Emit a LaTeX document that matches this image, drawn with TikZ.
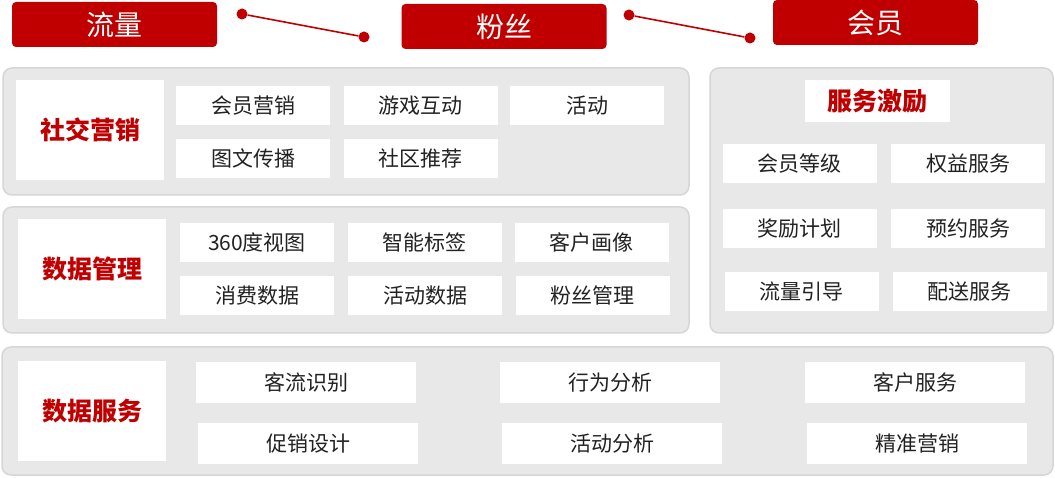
\documentclass[tikz,border=0pt]{standalone}
\usepackage{fontspec}
\setmainfont{Noto Sans CJK SC}
\usepackage{tikz}
\usetikzlibrary{calc}
\definecolor{hdred}{HTML}{C00000}
\definecolor{panelgrey}{HTML}{E8E8E8}
\definecolor{panelline}{HTML}{D6D6D6}
\definecolor{itemtext}{HTML}{222222}

\begin{document}
\begin{tikzpicture}[
x=1pt, y=-1pt,
header/.style={rectangle, rounded corners=4pt, fill=hdred, text=white, minimum width=205pt, minimum height=45pt, inner sep=0pt, font=\fontsize{28}{32}\selectfont},
panel/.style={rectangle, rounded corners=9pt, fill=panelgrey, draw=panelline, line width=1.5pt, inner sep=0pt},
title/.style={rectangle, fill=white, text=hdred, minimum width=148pt, minimum height=100pt, inner sep=0pt, font=\fontsize{25}{29}\selectfont\bfseries},
item/.style={rectangle, fill=white, text=itemtext, minimum width=154pt, minimum height=39pt, inner sep=0pt, font=\fontsize{21}{25}\selectfont},
wideitem/.style={item, minimum width=220pt, minimum height=41pt},
link/.style={draw=hdred, line width=1.6pt},
dot/.style={circle, fill=hdred, inner sep=0pt, minimum size=11pt}
]
\useasboundingbox (0,0) rectangle (1055,478);

% headers
\node[header] (traffic) at (114.5,24.5) {流量};
\node[header] (fans) at (504,26.5) {粉丝};
\node[header] (member) at (875.5,22.5) {会员};

% links between headers
\node[dot] (d1) at (242,14) {};
\node[dot] (d2) at (364,37) {};
\node[dot] (d3) at (629,15) {};
\node[dot] (d4) at (750,38) {};
\draw[link] (d1) -- (d2);
\draw[link] (d3) -- (d4);

% panels
\node[panel, minimum width=686pt, minimum height=127pt] (social) at (346,131.5) {};
\node[panel, minimum width=686pt, minimum height=126pt] (data) at (346,270) {};
\node[panel, minimum width=343pt, minimum height=265pt] (incent) at (881.5,200.5) {};
\node[panel, minimum width=1051pt, minimum height=128pt] (service) at (527.5,411) {};

% social marketing
\node[title] (t1) at (90,130) {社交营销};
\node[item] (s1) at (253,105.5) {会员营销};
\node[item] (s2) at (420.5,105.5) {游戏互动};
\node[item] (s3) at (587,105.5) {活动};
\node[item] (s4) at (253,158.5) {图文传播};
\node[item] (s5) at (420.5,158.5) {社区推荐};

% data management
\node[title] (t2) at (92,269) {数据管理};
\node[item] (m1) at (257,242.5) {360度视图};
\node[item] (m2) at (424.5,242.5) {智能标签};
\node[item] (m3) at (591.5,242.5) {客户画像};
\node[item] (m4) at (257,295.5) {消费数据};
\node[item] (m5) at (425,295.5) {活动数据};
\node[item] (m6) at (592.5,295.5) {粉丝管理};

% service incentives
\node[title, minimum width=145pt, minimum height=42pt] (t3) at (877.5,101) {服务激励};
\node[item] (i1) at (799.5,163.5) {会员等级};
\node[item] (i2) at (968,163.5) {权益服务};
\node[item] (i3) at (799.5,228.5) {奖励计划};
\node[item] (i4) at (968,228.5) {预约服务};
\node[item] (i5) at (801.5,291.5) {流量引导};
\node[item] (i6) at (969.5,291.5) {配送服务};

% data services
\node[title] (t4) at (92,411) {数据服务};
\node[wideitem] (v1) at (306,382.5) {客流识别};
\node[wideitem] (v2) at (610,382.5) {行为分析};
\node[wideitem] (v3) at (915,382.5) {客户服务};
\node[wideitem] (v4) at (308,443.5) {促销设计};
\node[wideitem] (v5) at (612,443.5) {活动分析};
\node[wideitem] (v6) at (917,443.5) {精准营销};

\end{tikzpicture}
\end{document}
